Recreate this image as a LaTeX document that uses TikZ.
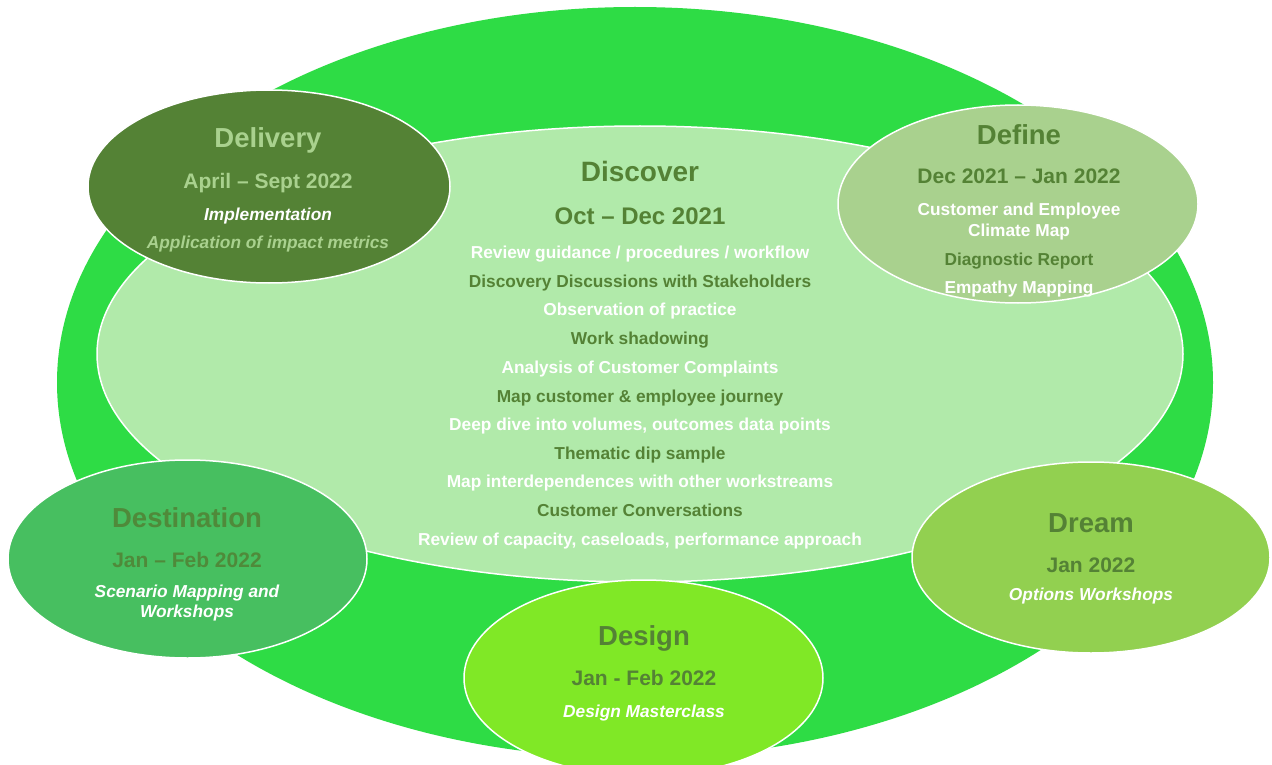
\documentclass[tikz,border=0pt]{standalone}
\usepackage{fontspec}
\setmainfont{Liberation Sans}
\usetikzlibrary{shapes.geometric}
\definecolor{outergreen}{HTML}{2EDC45}
\definecolor{innergreen}{HTML}{B1EAAA}
\definecolor{darkgreen}{HTML}{548235}
\definecolor{palegreen}{HTML}{A9D18E}
\definecolor{destgreen}{HTML}{47BF60}
\definecolor{dreamgreen}{HTML}{92D050}
\definecolor{limegreen}{HTML}{80E826}
\definecolor{desttitle}{HTML}{4F8A3A}
\tikzset{
  blob/.style={ellipse, draw=white, line width=1.5pt, inner sep=0pt},
  ttl/.style={anchor=base, inner sep=0pt, font=\bfseries\fontsize{27.5}{30}\selectfont},
  dt/.style={anchor=base, inner sep=0pt, font=\bfseries\fontsize{21}{24}\selectfont},
  itm/.style={anchor=base, inner sep=0pt, font=\bfseries\fontsize{17.3}{20}\selectfont},
  itmi/.style={anchor=base, inner sep=0pt, font=\bfseries\itshape\fontsize{17.3}{20}\selectfont},
}
\begin{document}
\begin{tikzpicture}[x=1pt,y=-1pt]
\useasboundingbox (0,0) rectangle (1272,765);
\fill[white] (0,0) rectangle (1272,765);
% outer ring and inner field
\node[ellipse, fill=outergreen, inner sep=0pt, minimum width=1156pt, minimum height=751pt] (outer) at (635,382.5) {};
\node[blob, fill=innergreen, minimum width=1086pt, minimum height=456pt] (inner) at (640,354) {};
% phase ellipses
\node[blob, fill=darkgreen, minimum width=362pt, minimum height=193pt] (delivery) at (269,186.5) {};
\node[blob, fill=palegreen, minimum width=360pt, minimum height=198pt] (define) at (1018,204) {};
\node[blob, fill=destgreen, minimum width=359pt, minimum height=198pt] (destination) at (187.5,559) {};
\node[blob, fill=dreamgreen, minimum width=358pt, minimum height=191pt] (dream) at (1091,557.5) {};
\node[blob, fill=limegreen, minimum width=359pt, minimum height=196pt] (design) at (643.5,678) {};
% Discover
\node[ttl, text=darkgreen, font=\bfseries\fontsize{28}{30}\selectfont] (discT) at (640,182) {Discover};
\node[dt, text=darkgreen, font=\bfseries\fontsize{24}{27}\selectfont] (discD) at (640,224) {Oct – Dec 2021};
\node[itm, text=white] (d1) at (640,258) {Review guidance / procedures / workflow};
\node[itm, text=darkgreen] (d2) at (640,287) {Discovery Discussions with Stakeholders};
\node[itm, text=white] (d3) at (640,315) {Observation of practice};
\node[itm, text=darkgreen] (d4) at (640,344) {Work shadowing};
\node[itm, text=white] (d5) at (640,373) {Analysis of Customer Complaints};
\node[itm, text=darkgreen] (d6) at (640,402) {Map customer \& employee journey};
\node[itm, text=white] (d7) at (640,430) {Deep dive into volumes, outcomes data points};
\node[itm, text=darkgreen] (d8) at (640,459) {Thematic dip sample};
\node[itm, text=white] (d9) at (640,487) {Map interdependences with other workstreams};
\node[itm, text=darkgreen] (d10) at (640,516) {Customer Conversations};
\node[itm, text=white] (d11) at (640,545) {Review of capacity, caseloads, performance approach};
% Delivery
\node[ttl, text=palegreen] (delT) at (268,148) {Delivery};
\node[dt, text=palegreen] (delD) at (268,188) {April – Sept 2022};
\node[itmi, text=white] (del1) at (268,220) {Implementation};
\node[itmi, text=palegreen] (del2) at (268,248) {Application of impact metrics};
% Define
\node[ttl, text=darkgreen] (defT) at (1019,145) {Define};
\node[dt, text=darkgreen] (defD) at (1019,183) {Dec 2021 – Jan 2022};
\node[itm, text=white] (def1) at (1019,215) {Customer and Employee};
\node[itm, text=white] (def2) at (1019,236) {Climate Map};
\node[itm, text=darkgreen] (def3) at (1019,265) {Diagnostic Report};
\node[itm, text=white] (def4) at (1019,293) {Empathy Mapping};
% Destination
\node[ttl, text=desttitle] (desT) at (187,527) {Destination};
\node[dt, text=desttitle] (desD) at (187,567) {Jan – Feb 2022};
\node[itmi, text=white] (des1) at (187,597) {Scenario Mapping and};
\node[itmi, text=white] (des2) at (187,617) {Workshops};
% Dream
\node[ttl, text=darkgreen] (drT) at (1091,532) {Dream};
\node[dt, text=darkgreen] (drD) at (1091,572) {Jan 2022};
\node[itmi, text=white] (dr1) at (1091,600) {Options Workshops};
% Design
\node[ttl, text=darkgreen] (dsT) at (644,645) {Design};
\node[dt, text=darkgreen] (dsD) at (644,685) {Jan - Feb 2022};
\node[itmi, text=white] (ds1) at (644,717) {Design Masterclass};
\end{tikzpicture}
\end{document}
